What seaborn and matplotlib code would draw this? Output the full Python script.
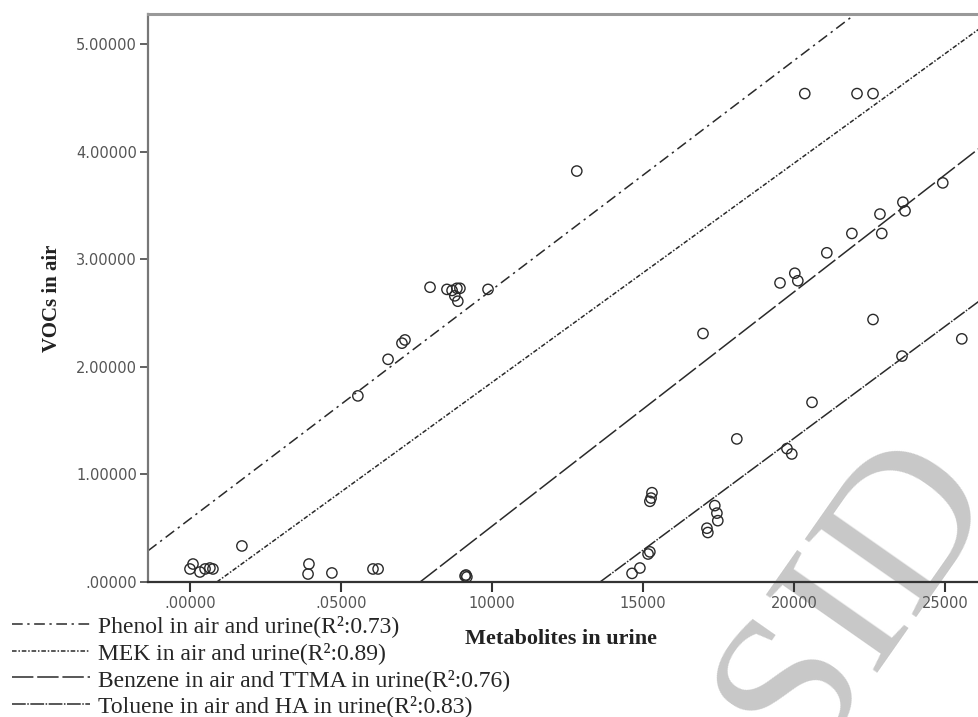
import matplotlib
matplotlib.use("Agg")
import matplotlib.pyplot as plt
import seaborn as sns
import pandas as pd

# Scatter points: metabolites in urine (x) vs VOCs in air (y)
urine = [0.0000, 0.0010, 0.0033, 0.0050, 0.0066, 0.0076,
         0.0172, 0.0394, 0.0391, 0.0470, 0.0606, 0.0623,
         0.0911, 0.0914, 0.0917,
         0.0556, 0.0656, 0.0702, 0.0712,
         0.0795, 0.0851, 0.0868, 0.0884, 0.0894, 0.0877, 0.0887, 0.0987,
         0.1281, 0.2036, 0.2209, 0.2262,
         0.2493, 0.2361, 0.2368, 0.2285, 0.2291, 0.2192, 0.2109,
         0.1954, 0.2003, 0.2013, 0.1699, 0.2262, 0.2556, 0.2358, 0.2060,
         0.1811, 0.1977, 0.1993,
         0.1530, 0.1527, 0.1523,
         0.1738, 0.1745, 0.1748, 0.1712, 0.1715,
         0.1517, 0.1523, 0.1490, 0.1464]
air = [0.121, 0.167, 0.093, 0.121, 0.130, 0.121,
       0.335, 0.167, 0.074, 0.084, 0.121, 0.121,
       0.056, 0.065, 0.047,
       1.73, 2.07, 2.22, 2.25,
       2.74, 2.72, 2.71, 2.73, 2.73, 2.66, 2.61, 2.72,
       3.82, 4.54, 4.54, 4.54,
       3.71, 3.53, 3.45, 3.42, 3.24, 3.24, 3.06,
       2.78, 2.87, 2.80, 2.31, 2.44, 2.26, 2.10, 1.67,
       1.33, 1.24, 1.19,
       0.83, 0.78, 0.75,
       0.71, 0.64, 0.57, 0.50, 0.46,
       0.26, 0.28, 0.13, 0.08]

# Fit lines, start and end points as drawn
line_labels = ["Phenol in air and urine(R²:0.73)",
               "MEK in air and urine(R²:0.89)",
               "Benzene in air and TTMA in urine(R²:0.76)",
               "Toluene in air and HA in urine(R²:0.83)"]
line_x = [[-0.0139, 0.2199], [0.0089, 0.2613], [0.0762, 0.2613], [0.1358, 0.2613]]
line_y = [[0.29, 5.27], [0.00, 5.14], [0.00, 4.03], [0.00, 2.61]]
line_styles = [(0, (7, 3, 1.5, 3)), (0, (3, 1.2, 1, 1.2)), (0, (14, 2.5)), (0, (9, 1, 1, 1))]

x_ticks = [0.00, 0.05, 0.10, 0.15, 0.20, 0.25]
x_ticklabels = [".00000", ".05000", "10000", "15000", "20000", "25000"]
y_ticks = [0, 1, 2, 3, 4, 5]
y_ticklabels = [".00000", "1.00000", "2.00000", "3.00000", "4.00000", "5.00000"]

sns.set_style("white")
plt.rcParams['font.family'] = ['DejaVu Sans']

fig = plt.figure(figsize=(9.79, 7.17), dpi=100)
ax = fig.add_axes([148 / 979, 0.1883, 1 - 148 / 979, 0.7922])
ax.patch.set_alpha(0)

# grey watermark behind the plot (cut by the image edge, as in the original)
fig.text(0.875, 0.17, "SID", fontsize=150, family="Liberation Serif", color="#c8c8c8",
         rotation=55, ha="center", va="center", zorder=-5)

df = pd.DataFrame({"urine": urine, "air": air})
sns.scatterplot(data=df, x="urine", y="air", ax=ax, marker="o", s=55,
                facecolor="none", edgecolor="#2a2a2a", linewidth=1.0, zorder=3)

for lbl, xs, ys, ls in zip(line_labels, line_x, line_y, line_styles):
    sns.lineplot(x=xs, y=ys, ax=ax, color="#2a2a2a", linewidth=1.1,
                 linestyle=ls, label=lbl, legend=False)

ax.set_xlim(-0.0139, 0.2613)
ax.set_ylim(0, 5.28)
ax.set_xticks(x_ticks)
ax.set_xticklabels(x_ticklabels)
ax.set_yticks(y_ticks)
ax.set_yticklabels(y_ticklabels)
ax.tick_params(axis="x", direction="out", length=7, width=1.5, color="#333333",
               labelsize=10.5, labelcolor="#555555", pad=3, bottom=True)
ax.tick_params(axis="y", direction="out", length=6, width=1.3, color="#555555",
               labelsize=10.5, labelcolor="#555555", pad=2, left=True)

for side in ["left", "top", "bottom"]:
    ax.spines[side].set_visible(True)
ax.spines["right"].set_visible(False)
ax.spines["left"].set_color("#777777")
ax.spines["left"].set_linewidth(1.6)
ax.spines["top"].set_color("#999999")
ax.spines["top"].set_linewidth(2.2)
ax.spines["bottom"].set_color("#333333")
ax.spines["bottom"].set_linewidth(1.6)

ax.set_xlabel("Metabolites in urine", family="Liberation Serif", fontweight="bold",
              fontsize=16, color="#222222")
ax.xaxis.set_label_coords(0.497, -0.082)
ax.set_ylabel("VOCs in air", family="Liberation Serif", fontweight="bold",
              fontsize=15, color="#222222")
ax.yaxis.set_label_coords(-0.104, 0.5)

handles = ax.get_lines()[:4]
fig.legend(handles, line_labels, loc="upper left", bbox_to_anchor=(0.012, 0.142),
           frameon=False, borderpad=0, borderaxespad=0, handlelength=3.3,
           handletextpad=0.35, labelspacing=0.2,
           prop={"family": "Liberation Serif", "size": 17})

fig.savefig("out.png", dpi=100)
